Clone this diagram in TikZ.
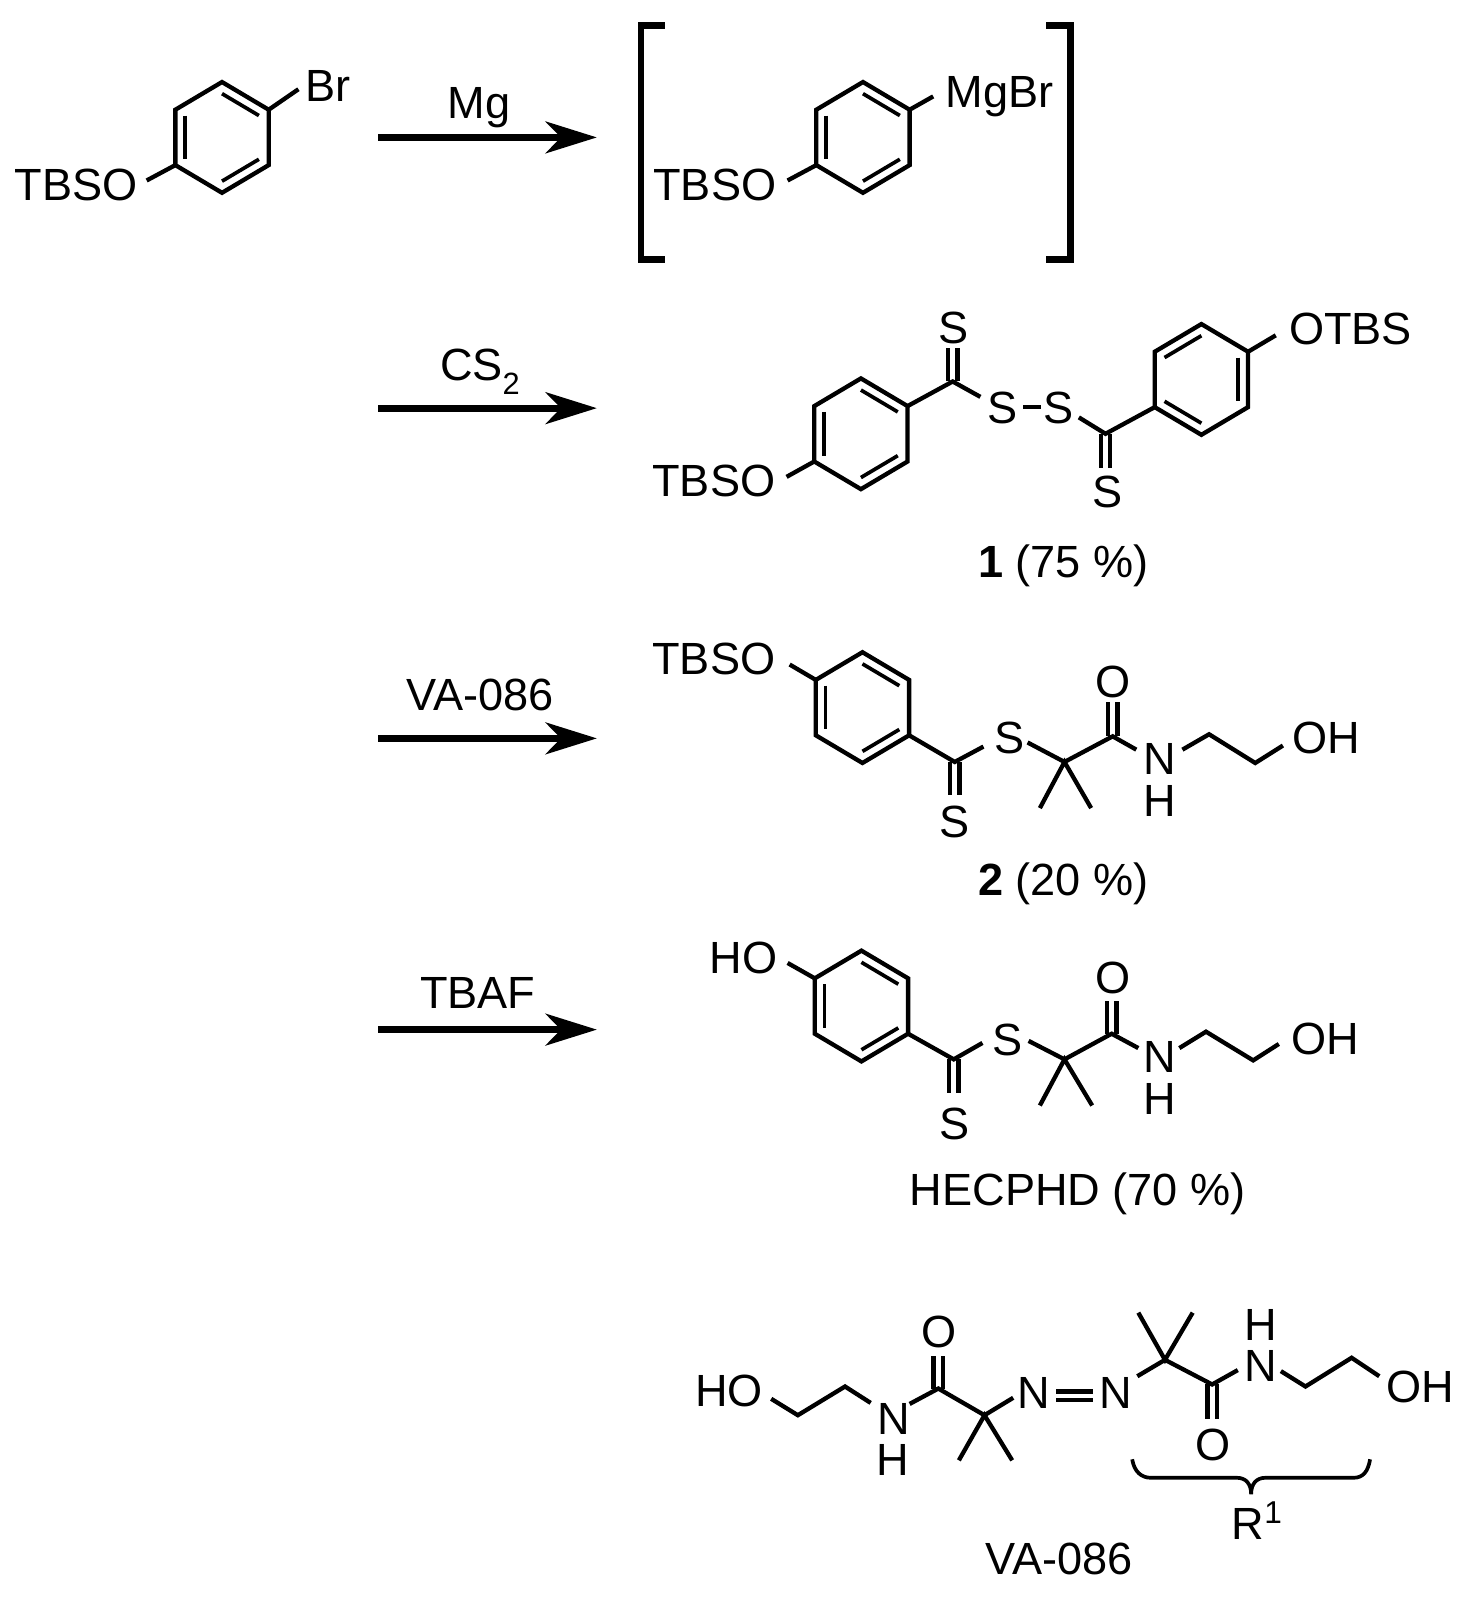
\documentclass[tikz,border=0pt]{standalone}
\usepackage{fontspec}
\setmainfont{Liberation Sans}
\usetikzlibrary{calc,arrows.meta}
\tikzset{
  bond/.style={line width=2.1pt,line cap=butt,line join=miter,black},
  inbond/.style={line width=1.8pt,line cap=butt,black},
  rxn/.style={line width=3.3pt,black,-{Stealth[length=25pt,width=15.5pt,inset=7.5pt]}},
  brk/.style={line width=3.1pt,line join=miter,black},
  lbl/.style={inner sep=0pt,outer sep=0pt,text height=15.8pt,text depth=0pt,font=\fontsize{22}{26}\selectfont,black},
}
\newcommand{\ringpts}[3]{%
  \coordinate (#1c) at (#2,#3);
  \coordinate (#1t) at (#2,#3-54);\coordinate (#1ur) at (#2+45.5,#3-27);\coordinate (#1lr) at (#2+45.5,#3+27);
  \coordinate (#1b) at (#2,#3+54);\coordinate (#1ll) at (#2-45.5,#3+27);\coordinate (#1ul) at (#2-45.5,#3-27);
  \draw[bond] (#1t)--(#1ur)--(#1lr)--(#1b)--(#1ll)--(#1ul)--cycle;}
\newcommand{\ringA}[3]{%
  \ringpts{#1}{#2}{#3}
  \draw[inbond] ($(#1c)!.79!(#1ul)$)--($(#1c)!.79!(#1ll)$);
  \draw[inbond] ($(#1c)!.79!(#1t)$)--($(#1c)!.79!(#1ur)$);
  \draw[inbond] ($(#1c)!.79!(#1lr)$)--($(#1c)!.79!(#1b)$);
}
\newcommand{\ringB}[3]{%
  \ringpts{#1}{#2}{#3}
  \draw[inbond] ($(#1c)!.79!(#1ur)$)--($(#1c)!.79!(#1lr)$);
  \draw[inbond] ($(#1c)!.79!(#1t)$)--($(#1c)!.79!(#1ul)$);
  \draw[inbond] ($(#1c)!.79!(#1ll)$)--($(#1c)!.79!(#1b)$);
}
\newcommand{\pt}[3]{\coordinate (#1) at (#2,#3);}
\newcommand{\dblv}[2]{%
  \draw[bond] ([xshift=-2.3pt]#1)--([xshift=-2.3pt]#2);
  \draw[bond] ([xshift=2.3pt]#1)--([xshift=2.3pt]#2);}
\begin{document}
\begin{tikzpicture}[x=.5pt,y=-.5pt]
\useasboundingbox (0,0) rectangle (1436,1568);

% ---------- arrows
\foreach \n/\yy in {a/134,b/398,c/720,d/1004}{
  \pt{\n s}{369}{\yy}\pt{\n e}{582}{\yy}
  \draw[rxn] (\n s)--(\n e);
}
\node[lbl] (mg) at (467,100) {Mg};
\node[lbl] (cs) at (468,355) {CS\raisebox{-7pt}{\fontsize{15}{15}\selectfont 2}};
\node[lbl] (va) at (468,677) {VA-086};
\node[lbl] (tbaf) at (466,968) {TBAF};

% ---------- aryl bromide
\ringA{p}{216.5}{134}
\node[lbl] (ptbso) at (74,180) {TBSO};
\node[lbl] (pbr) at (320,83) {Br};
\pt{po}{143}{176}\pt{pb}{291}{87}
\draw[bond] (po)--(pll);
\draw[bond] (pur)--(pb);

% ---------- Grignard in brackets
\ringA{q}{841.5}{134}
\node[lbl] (qtbso) at (697,180) {TBSO};
\node[lbl] (qmg) at (975,89) {MgBr};
\pt{qo}{768}{176}\pt{qb}{910}{94}
\draw[bond] (qo)--(qll);
\draw[bond] (qur)--(qb);
\pt{l1}{648}{25}\pt{l2}{625}{25}\pt{l3}{625}{253}\pt{l4}{648}{253}
\pt{r1}{1020}{25}\pt{r2}{1044}{25}\pt{r3}{1044}{253}\pt{r4}{1020}{253}
\draw[brk] (l1)--(l2)--(l3)--(l4);
\draw[brk] (r1)--(r2)--(r3)--(r4);

% ---------- compound 1
\ringA{u}{839.5}{423}
\ringB{v}{1171.5}{370}
\node[lbl] (utbso) at (696,468) {TBSO};
\node[lbl] (vtbs) at (1317,320) {OTBS};
\node[lbl] (us) at (930,319) {S};
\node[lbl] (s1) at (978,397) {S};
\node[lbl] (s2) at (1032,397) {S};
\node[lbl] (vs) at (1080,479) {S};
\node[lbl] (y1) at (1037,547) {\textbf{1} (75 \%)};
\pt{uo}{767}{465}\pt{uc}{929}{372}\pt{us1}{929}{339}\pt{ue}{956}{387}
\pt{ss1}{998}{397}\pt{ss2}{1015}{397}
\pt{ve}{1052}{407}\pt{vc}{1078}{423}\pt{vs1}{1078}{456}\pt{vo}{1244}{327}
\draw[bond] (uo)--(ull);
\draw[bond] (uur)--(uc)--(ue);
\dblv{uc}{us1}
\draw[bond] (ss1)--(ss2);
\draw[bond] (ve)--(vc)--(vll);
\dblv{vc}{vs1}
\draw[bond] (vur)--(vo);

% ---------- compound 2
\ringA{w}{841}{690}
\node[lbl] (wtbso) at (696,642) {TBSO};
\node[lbl] (ws2) at (931,801) {S};
\node[lbl] (ws) at (984,719) {S};
\node[lbl] (wo) at (1085,664) {O};
\node[lbl] (wn) at (1131,739) {N};
\node[lbl] (wh) at (1131,780) {H};
\node[lbl] (woh) at (1293,719) {OH};
\node[lbl] (y2) at (1037,857) {\textbf{2} (20 \%)};
\pt{wob}{770}{648}\pt{wc}{931}{743}\pt{wc2}{931}{775}\pt{wse}{959}{728}
\pt{wss}{1002}{724}\pt{wq}{1038}{743}\pt{wm1}{1014}{788}\pt{wm2}{1064}{788}
\pt{wk}{1085}{718}\pt{wk2}{1085}{685}\pt{wne}{1108}{731}\pt{wns}{1153}{731}
\pt{wh1}{1179}{716}\pt{wh2}{1224}{744}\pt{whe}{1251}{727}
\draw[bond] (wob)--(wul);
\draw[bond] (wlr)--(wc)--(wse);
\dblv{wc}{wc2}
\draw[bond] (wss)--(wq)--(wk)--(wne);
\draw[bond] (wm1)--(wq)--(wm2);
\dblv{wk}{wk2}
\draw[bond] (wns)--(wh1)--(wh2)--(whe);

% ---------- HECPHD
\ringA{h}{840}{981}
\node[lbl] (hho) at (725,933) {HO};
\node[lbl] (hs2) at (931,1095) {S};
\node[lbl] (hs) at (982,1013) {S};
\node[lbl] (ho) at (1085,953) {O};
\node[lbl] (hn) at (1131,1030) {N};
\node[lbl] (hh) at (1131,1071) {H};
\node[lbl] (hoh) at (1292,1012) {OH};
\node[lbl] (y3) at (1051,1160) {HECPHD (70 \%)};
\pt{hob}{768}{939}\pt{hc}{930}{1033}\pt{hc2}{930}{1066}\pt{hse}{958}{1017}
\pt{hss}{1003}{1015}\pt{hq}{1038}{1033}\pt{hm1}{1014}{1078}\pt{hm2}{1065}{1078}
\pt{hk}{1084}{1008}\pt{hk2}{1084}{976}\pt{hne}{1110}{1022}\pt{hns}{1150}{1022}
\pt{hh1}{1176}{1006}\pt{hh2}{1222}{1034}\pt{hhe}{1247}{1018}
\draw[bond] (hob)--(hul);
\draw[bond] (hlr)--(hc)--(hse);
\dblv{hc}{hc2}
\draw[bond] (hss)--(hq)--(hk)--(hne);
\draw[bond] (hm1)--(hq)--(hm2);
\dblv{hk}{hk2}
\draw[bond] (hns)--(hh1)--(hh2)--(hhe);

% ---------- VA-086
\node[lbl] (aho) at (711,1356) {HO};
\node[lbl] (an) at (872,1383) {N};
\node[lbl] (ah) at (871,1423) {H};
\node[lbl] (ao) at (916,1298) {O};
\node[lbl] (an1) at (1008,1358) {N};
\node[lbl] (an2) at (1088,1358) {N};
\node[lbl] (bo) at (1183,1408) {O};
\node[lbl] (bn) at (1229,1331) {N};
\node[lbl] (bh) at (1229,1291) {H};
\node[lbl] (boh) at (1385,1352) {OH};
\node[lbl] (ar) at (1226,1485) {R\textsuperscript{1}};
\node[lbl] (vaname) at (1033,1520) {VA-086};
\pt{a1}{752}{1364}\pt{a2}{778}{1380}\pt{a3}{824}{1352}\pt{a4}{849}{1368}
\pt{a5}{887}{1369}\pt{ak}{915}{1354}\pt{ak2}{915}{1322}\pt{aq}{960}{1380}
\pt{am1}{935}{1424}\pt{am2}{987}{1424}\pt{an1s}{988}{1363}
\pt{nn1}{1030}{1357}\pt{nn2}{1066}{1357}\pt{nn3}{1030}{1365}\pt{nn4}{1066}{1365}
\pt{b1}{1109}{1342}\pt{bq}{1136}{1326}\pt{bm1}{1110}{1280}\pt{bm2}{1163}{1280}
\pt{bk}{1182}{1350}\pt{bk2}{1182}{1384}\pt{b2}{1207}{1336}
\pt{b3}{1249}{1337}\pt{b4}{1273}{1352}\pt{b5}{1318}{1324}\pt{b6}{1345}{1342}
\draw[bond] (a1)--(a2)--(a3)--(a4);
\draw[bond] (a5)--(ak)--(aq)--(an1s);
\dblv{ak}{ak2}
\draw[bond] (am1)--(aq)--(am2);
\draw[bond] (nn1)--(nn2);
\draw[bond] (nn3)--(nn4);
\draw[bond] (b1)--(bq)--(bk)--(b2);
\draw[bond] (bm1)--(bq)--(bm2);
\dblv{bk}{bk2}
\draw[bond] (b3)--(b4)--(b5)--(b6);
% brace
\pt{c1}{1104}{1423}\pt{c2}{1122}{1441}\pt{c3}{1206}{1441}\pt{c4}{1220}{1457}\pt{c5}{1234}{1441}\pt{c6}{1320}{1441}\pt{c7}{1336}{1423}
\draw[inbond] (c1) .. controls (1106,1435) and (1113,1441) .. (c2)
  -- (c3) .. controls (1215,1441) and (1220,1447) .. (c4)
  .. controls (1220,1447) and (1225,1441) .. (c5)
  -- (c6) .. controls (1329,1441) and (1334,1435) .. (c7);
\end{tikzpicture}
\end{document}
